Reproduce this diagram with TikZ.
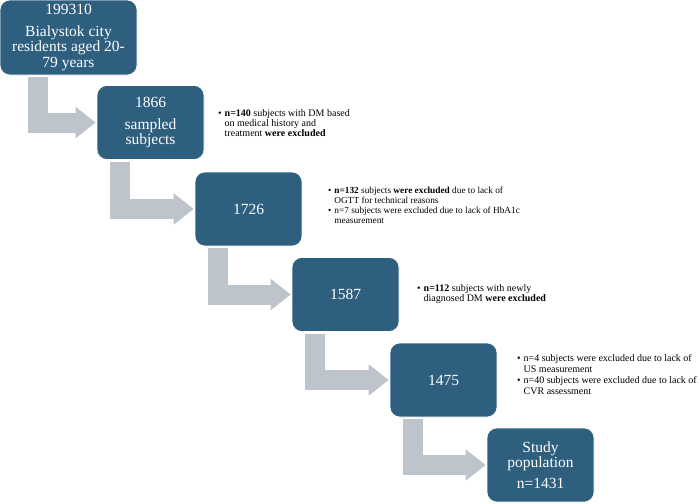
\documentclass[tikz,border=0pt]{standalone}
\usepackage{fontspec}
\setmainfont{Liberation Serif}
\usetikzlibrary{arrows.meta,positioning}
\definecolor{boxblue}{RGB}{46,95,126}
\definecolor{arrowgray}{RGB}{190,196,204}

\begin{document}
\begin{tikzpicture}[x=1pt,y=1pt,
  stage/.style={draw=white,line width=.6pt,fill=boxblue,rounded corners=10pt,text=white,align=center,
    minimum width=107pt,minimum height=74pt,inner sep=2pt,font=\fontsize{15.5}{15.5}\selectfont},
  note/.style={anchor=west,inner sep=0pt,font=\fontsize{10}{10}\selectfont},
  flow/.style={draw=arrowgray,line width=20pt,line join=miter,-{Triangle[length=20pt,width=30pt]}}]
\useasboundingbox (0,0) rectangle (700,-503);
\node[stage,minimum width=137pt,minimum height=75pt] (s0) at (68.5,-37.5) {199310\\[6pt]Bialystok city\\residents aged 20-\\79 years};
\node[stage] (s1) at (150.5,-122.5) {1866\\[6pt]sampled\\subjects};
\node[stage] (s2) at (248.5,-209) {1726};
\node[stage] (s3) at (345.5,-294.5) {1587};
\node[stage] (s4) at (443.5,-380) {1475};
\node[stage] (s5) at (540.5,-465) {Study\\population\\[5pt]n=1431};
\draw[flow] ([xshift=38pt,yshift=-2pt]s0.south west) |- ([xshift=-1pt]s1.west);
\draw[flow] ([xshift=23pt,yshift=-2pt]s1.south west) |- ([xshift=-1pt]s2.west);
\draw[flow] ([xshift=23pt,yshift=-2pt]s2.south west) |- ([xshift=-1pt]s3.west);
\draw[flow] ([xshift=23pt,yshift=-2pt]s3.south west) |- ([xshift=-1pt]s4.west);
\draw[flow] ([xshift=23pt,yshift=-2pt]s4.south west) |- ([xshift=-1pt]s5.west);
\node[note] (n1) at (218,-124) {\begin{tabular}{@{}l@{\hspace{3pt}}l@{}}\textbullet&\textbf{n=140} subjects with DM based\\&on medical history and\\&treatment \textbf{were excluded}\end{tabular}};
\node[note,font=\fontsize{9.3}{10}\selectfont] (n2) at (328,-206) {\begin{tabular}{@{}l@{\hspace{3pt}}l@{}}\textbullet&\textbf{n=132} subjects \textbf{were excluded} due to lack of\\&OGTT for technical reasons\\\textbullet&n=7 subjects were excluded due to lack of HbA1c\\&measurement\end{tabular}};
\node[note] (n3) at (417,-294.5) {\begin{tabular}{@{}l@{\hspace{3pt}}l@{}}\textbullet&\textbf{n=112} subjects with newly\\&diagnosed DM \textbf{were excluded}\end{tabular}};
\node[note,font=\fontsize{10}{11}\selectfont] (n4) at (517,-375.5) {\begin{tabular}{@{}l@{\hspace{3pt}}l@{}}\textbullet&n=4 subjects were excluded due to lack of\\&US measurement\\\textbullet&n=40 subjects were excluded due to lack of\\&CVR assessment\end{tabular}};
\end{tikzpicture}
\end{document}
